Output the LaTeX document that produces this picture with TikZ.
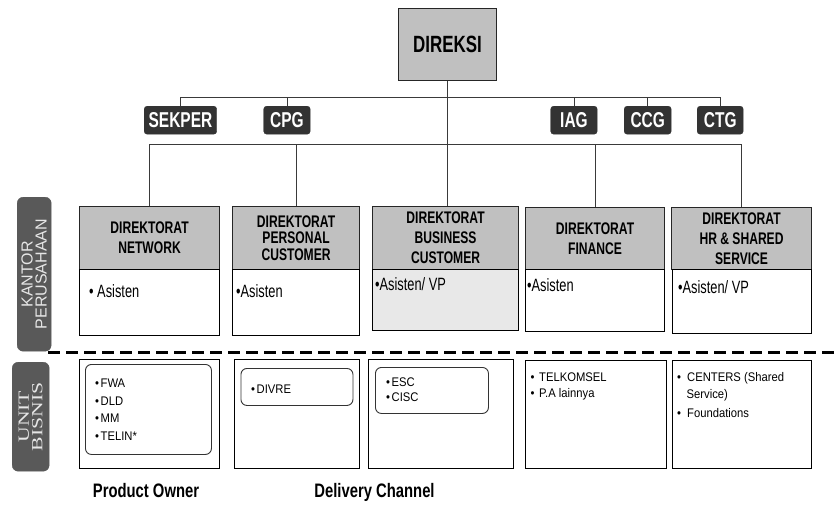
\documentclass[tikz,border=0pt]{standalone}
\usepackage{fontspec}
\setmainfont{Liberation Sans}
\newfontfamily\condf[FakeStretch=0.72]{Liberation Sans}
\newfontfamily\capf[FakeStretch=0.76]{Liberation Sans}
\newfontfamily\listf[FakeStretch=0.9]{Liberation Sans}
\newfontfamily\labf{Liberation Sans}
\newfontfamily\serf[FakeStretch=1.4]{Liberation Serif}
\definecolor{hdrgray}{HTML}{C0C0C0}
\definecolor{bizgray}{HTML}{E8E8E8}
\definecolor{staffdark}{HTML}{333333}
\definecolor{labeldark}{HTML}{595959}
\definecolor{labeltext}{HTML}{E6E6E6}
\definecolor{linegray}{HTML}{3A3A3A}
\begin{document}
\begin{tikzpicture}[x=1pt,y=-1pt,
  hdr/.style={draw=black!85, line width=1.1pt, fill=hdrgray, anchor=north west, inner sep=0pt, align=center,
    font=\condf\bfseries\fontsize{16.8}{20}\selectfont},
  bodybox/.style={draw=black, line width=0.9pt, fill=white, anchor=north west, inner sep=0pt},
  innerbox/.style={draw=black!80, line width=0.9pt, rounded corners=6pt, anchor=north west, inner sep=0pt},
  staffbox/.style={draw=staffdark, fill=staffdark, rounded corners=3pt, text=white, anchor=north west,
    inner sep=0pt, minimum height=28, font=\condf\bfseries\fontsize{21.5}{21.5}\selectfont},
  conn/.style={draw=linegray, line width=0.9pt},
  bodytxt/.style={anchor=base west, inner sep=0pt, font=\condf\fontsize{17.8}{17.8}\selectfont},
  listtxt/.style={anchor=base west, inner sep=0pt, font=\listf\fontsize{12.5}{12.5}\selectfont},
  sidelabel/.style={fill=labeldark, draw=labeldark, rounded corners=6pt, anchor=north west, inner sep=0pt},
  captxt/.style={anchor=base, inner sep=0pt, font=\capf\bfseries\fontsize{19.5}{19.5}\selectfont}
]
\fill[white] (0,0) rectangle (834,506);
\useasboundingbox (0,0) rectangle (834,506);

% top
\node[hdr, minimum width=98, minimum height=72, font=\condf\bfseries\fontsize{23.5}{23.5}\selectfont] (direksi) at (398,8) {DIREKSI};

\node[staffbox, minimum width=72.5] (sekper) at (144,106) {SEKPER};
\node[staffbox, minimum width=46.5] (cpg) at (263.5,106) {CPG};
\node[staffbox, minimum width=46.5] (iag) at (550.5,106) {IAG};
\node[staffbox, minimum width=47] (ccg) at (624,106) {CCG};
\node[staffbox, minimum width=46] (ctg) at (697,106) {CTG};

% directorates
\node[hdr, minimum width=140, minimum height=63] (net) at (79,206) {DIREKTORAT\\NETWORK};
\node[hdr, minimum width=127, minimum height=63, font=\condf\bfseries\fontsize{16.8}{16.5}\selectfont] (pers) at (232,206) {DIREKTORAT\\PERSONAL\\CUSTOMER};
\node[hdr, minimum width=146, minimum height=63] (busdir) at (372,206) {DIREKTORAT\\BUSINESS\\CUSTOMER};
\node[hdr, minimum width=139, minimum height=62] (fin) at (525,207) {DIREKTORAT\\FINANCE};
\node[hdr, minimum width=140, minimum height=62] (hr) at (671,207) {DIREKTORAT\\HR \& SHARED\\SERVICE};

\node[bodybox, minimum width=140, minimum height=66] (netb) at (79,269) {};
\node[bodybox, minimum width=127, minimum height=66] (persb) at (232,269) {};
\node[bodybox, minimum width=146, minimum height=61, fill=bizgray] (busb) at (372,269) {};
\node[bodybox, minimum width=139, minimum height=62] (finb) at (525,269) {};
\node[bodybox, minimum width=139, minimum height=64] (hrb) at (672,269) {};

\node[bodytxt] (nett) at (89,297) {• Asisten};
\node[bodytxt] (perst) at (236,297) {•Asisten};
\node[bodytxt] (bust) at (375,290) {•Asisten/ VP};
\node[bodytxt] (fint) at (527,291.5) {•Asisten};
\node[bodytxt] (hrt) at (678,293) {•Asisten/ VP};

% connectors
\coordinate (staffbus) at (448,97);
\coordinate (mainbus) at (448,144);
\draw[conn] (sekper.north) -- (sekper.north |- staffbus) -- (ctg.north |- staffbus) -- (ctg.north);
\foreach \n in {cpg,iag,ccg} \draw[conn] (\n.north) -- (\n.north |- staffbus);
\draw[conn] (direksi.south) -- (direksi.south |- busdir.north);
\draw[conn] (net.north) -- (net.north |- mainbus) -- (hr.north |- mainbus) -- (hr.north);
\foreach \n in {pers,fin} \draw[conn] (\n.north) -- (\n.north |- mainbus);

% side labels
\node[sidelabel, minimum width=34, minimum height=154] (kantor) at (17,197) {};
\node[rotate=90, align=center, text=labeltext, inner sep=0pt, font=\labf\fontsize{16}{14}\selectfont] (kantort) at (kantor.center) {KANTOR\\PERUSAHAAN};
\node[sidelabel, minimum width=37, minimum height=109] (unit) at (12,362) {};
\node[rotate=90, align=center, text=labeltext, inner sep=0pt, font=\serf\fontsize{15.5}{13.5}\selectfont] (unitt) at (unit.center) {UNIT\\BISNIS};

% separator
\coordinate (sepl) at (48,352);
\coordinate (sepr) at (834,352);
\draw[line width=3pt, dash pattern=on 11.5pt off 6.5pt] (sepl) -- (sepr);

% business units
\node[bodybox, minimum width=140, minimum height=109] (pob) at (79,359) {};
\node[bodybox, minimum width=125, minimum height=109] (dc1) at (234,359) {};
\node[bodybox, minimum width=145, minimum height=109] (dc2) at (368,359) {};
\node[bodybox, minimum width=141, minimum height=108] (tsb) at (525,360) {};
\node[bodybox, minimum width=139, minimum height=108] (ctb) at (672,360) {};

\node[innerbox, minimum width=126, minimum height=90] (poin) at (85,364) {};
\node[innerbox, minimum width=112, minimum height=37] (divin) at (240.5,368) {};
\node[innerbox, minimum width=113, minimum height=46] (escin) at (375,367) {};

\node[listtxt] (l1) at (95,387.3) {•\hspace{1.5pt}FWA};
\node[listtxt] (l2) at (95,405) {•\hspace{1.5pt}DLD};
\node[listtxt] (l3) at (95,422.7) {•\hspace{1.5pt}MM};
\node[listtxt] (l4) at (95,440.7) {•\hspace{1.5pt}TELIN*};
\node[listtxt] (l5) at (251,393.3) {•\hspace{1.5pt}DIVRE};
\node[listtxt] (l6) at (386,386.7) {•\hspace{1.5pt}ESC};
\node[listtxt] (l7) at (386,401.7) {•\hspace{1.5pt}CISC};
\node[listtxt] (l8) at (530.5,381.7) {•\hspace{4.5pt}TELKOMSEL};
\node[listtxt] (l9) at (530.5,397.5) {•\hspace{4.5pt}P.A lainnya};
\node[listtxt] (l10) at (677,381.7) {•\hspace{6pt}CENTERS (Shared};
\node[listtxt] (l11) at (686.5,398.5) {Service)};
\node[listtxt] (l12) at (677,417) {•\hspace{6pt}Foundations};

\node[captxt] (po) at (146,497) {Product Owner};
\node[captxt] (dch) at (374.5,497) {Delivery Channel};
\end{tikzpicture}
\end{document}
